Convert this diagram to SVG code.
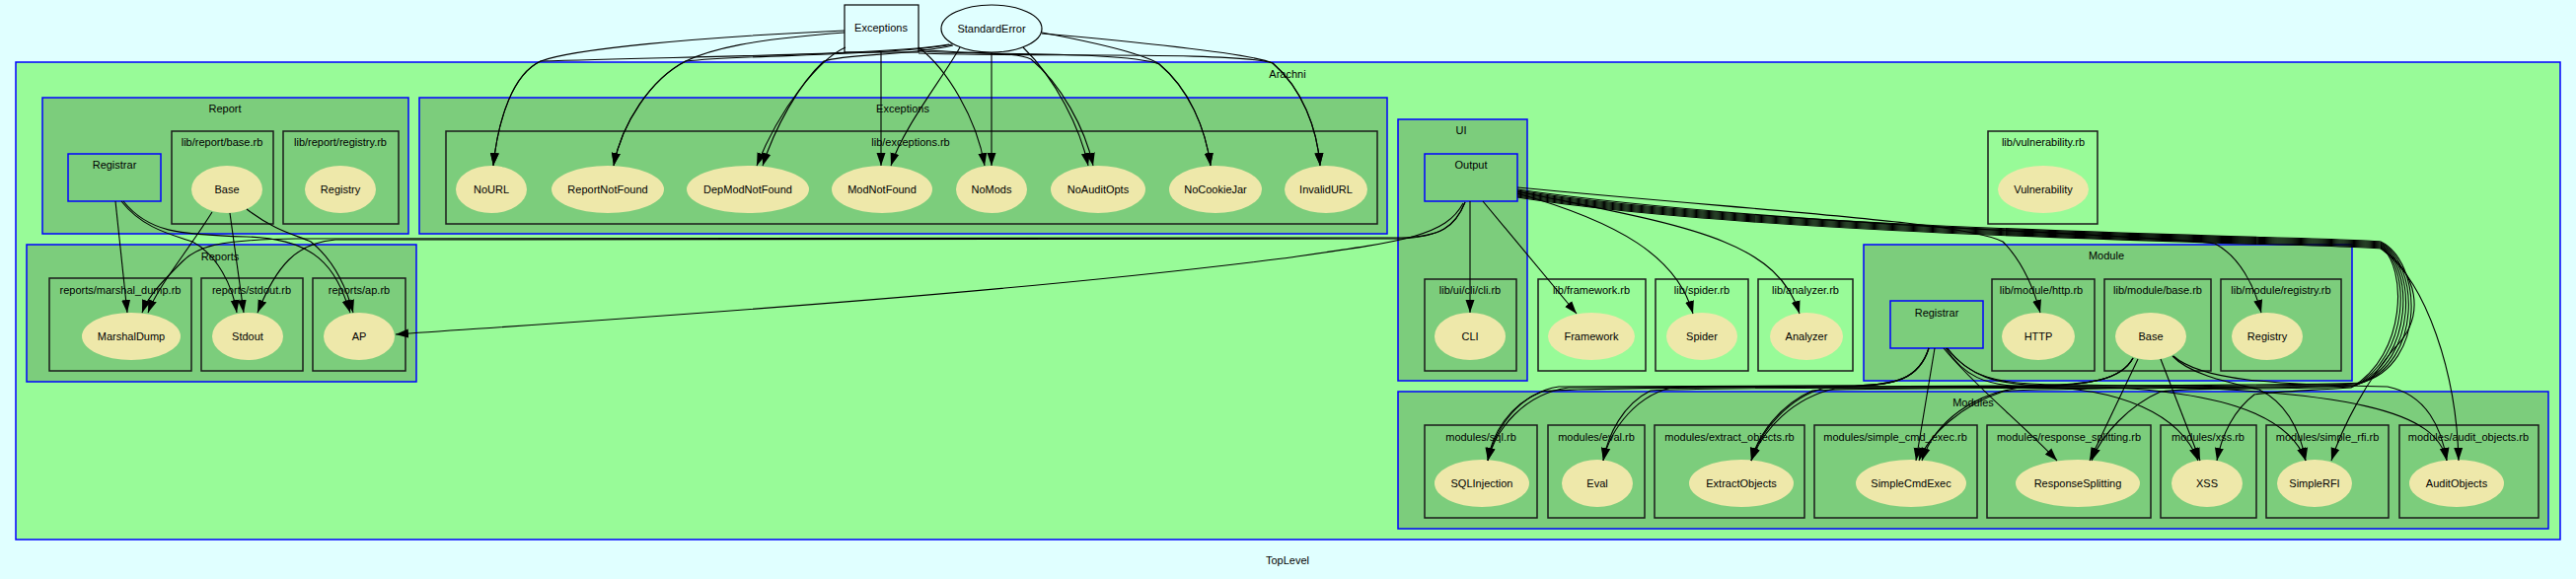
<svg xmlns="http://www.w3.org/2000/svg" width="2611" height="587" viewBox="0 0 2611 587">
<defs>
<style>
text{font-family:"Liberation Sans",Arial,sans-serif;font-size:11px;text-anchor:middle;fill:#000}
.c1{fill:#98FB98;stroke:#0000FF;stroke-width:1.5}
.c2{fill:#7CCD7C;stroke:#0000FF;stroke-width:1.5}
.f{fill:none;stroke:#1a1a1a;stroke-width:1.5}
.n{fill:#EEE8AA;stroke:none}
.m{fill:none;stroke:#0000FF;stroke-width:1.5}
.t{fill:#E0FFFF;stroke:#000;stroke-width:1.2}
.e path{fill:none;stroke:#000;stroke-width:1.1;marker-end:url(#arr)}
</style>
<marker id="arr" markerUnits="userSpaceOnUse" markerWidth="13" markerHeight="10" refX="13" refY="5" orient="auto">
<path d="M0,0.5 L13,5 L0,9.5 z" fill="#000"/>
</marker>
</defs>
<rect x="0" y="0" width="2611" height="587" fill="#E0FFFF"/>
<text x="1305" y="572">TopLevel</text>

<!-- clusters -->
<g id="cluster_Arachni">
<rect class="c1" x="16" y="63" width="2579" height="484"/>
<text x="1305" y="79">Arachni</text>
</g>
<g id="cluster_Report">
<rect class="c2" x="43" y="99" width="371" height="138"/>
<text x="228" y="114">Report</text>
<rect class="f" x="174" y="133" width="103" height="94"/>
<text x="225" y="148">lib/report/base.rb</text>
<rect class="f" x="287" y="133" width="117" height="94"/>
<text x="345" y="148">lib/report/registry.rb</text>
</g>
<g id="cluster_Exceptions">
<rect class="c2" x="425" y="99" width="981" height="138"/>
<text x="915" y="114">Exceptions</text>
<rect class="f" x="452" y="133" width="944" height="94"/>
<text x="923" y="148">lib/exceptions.rb</text>
</g>
<g id="cluster_Reports">
<rect class="c2" x="27" y="248" width="395" height="139"/>
<text x="223" y="264">Reports</text>
<rect class="f" x="50" y="282" width="144" height="94"/>
<text x="122" y="298">reports/marshal_dump.rb</text>
<rect class="f" x="204" y="282" width="103" height="94"/>
<text x="255" y="298">reports/stdout.rb</text>
<rect class="f" x="317" y="282" width="94" height="94"/>
<text x="364" y="298">reports/ap.rb</text>
</g>
<g id="cluster_UI">
<rect class="c2" x="1417" y="121" width="131" height="265"/>
<text x="1481" y="136">UI</text>
<rect class="f" x="1444" y="283" width="93" height="93"/>
<text x="1490" y="298">lib/ui/cli/cli.rb</text>
</g>
<g id="cluster_files">
<rect class="f" x="1559" y="283" width="109" height="93"/>
<text x="1613" y="298">lib/framework.rb</text>
<rect class="f" x="1678" y="283" width="94" height="93"/>
<text x="1725" y="298">lib/spider.rb</text>
<rect class="f" x="1782" y="283" width="96" height="93"/>
<text x="1830" y="298">lib/analyzer.rb</text>
<rect class="f" x="2015" y="133" width="111" height="94"/>
<text x="2071" y="148">lib/vulnerability.rb</text>
</g>
<g id="cluster_Module">
<rect class="c2" x="1889" y="248" width="495" height="138"/>
<text x="2135" y="263">Module</text>
<rect class="f" x="2019" y="283" width="104" height="93"/>
<text x="2069" y="298">lib/module/http.rb</text>
<rect class="f" x="2133" y="283" width="108" height="93"/>
<text x="2187" y="298">lib/module/base.rb</text>
<rect class="f" x="2251" y="283" width="122" height="93"/>
<text x="2312" y="298">lib/module/registry.rb</text>
</g>
<g id="cluster_Modules">
<rect class="c2" x="1417" y="397" width="1166" height="139"/>
<text x="2000" y="412">Modules</text>
<rect class="f" x="1444" y="431" width="114" height="94"/>
<text x="1501" y="447">modules/sql.rb</text>
<rect class="f" x="1569" y="431" width="98" height="94"/>
<text x="1618" y="447">modules/eval.rb</text>
<rect class="f" x="1677" y="431" width="152" height="94"/>
<text x="1753" y="447">modules/extract_objects.rb</text>
<rect class="f" x="1839" y="431" width="165" height="94"/>
<text x="1921" y="447">modules/simple_cmd_exec.rb</text>
<rect class="f" x="2014" y="431" width="166" height="94"/>
<text x="2097" y="447">modules/response_splitting.rb</text>
<rect class="f" x="2190" y="431" width="97" height="94"/>
<text x="2238" y="447">modules/xss.rb</text>
<rect class="f" x="2297" y="431" width="124" height="94"/>
<text x="2359" y="447">modules/simple_rfi.rb</text>
<rect class="f" x="2432" y="431" width="141" height="94"/>
<text x="2502" y="447">modules/audit_objects.rb</text>
</g>

<!-- nodes -->
<g id="Exceptions"><rect class="t" x="856" y="5" width="75" height="48"/><text x="893" y="32">Exceptions</text></g>
<g id="StandardError"><ellipse class="t" cx="1005" cy="29" rx="51" ry="24"/><text x="1005" y="33">StandardError</text></g>
<g id="Report_Registrar"><rect class="m" x="69" y="156" width="94" height="48"/><text x="116" y="171">Registrar</text></g>
<g id="Report_Base"><ellipse class="n" cx="230" cy="192" rx="36" ry="24"/><text x="230" y="196">Base</text></g>
<g id="Report_Registry"><ellipse class="n" cx="345" cy="192" rx="36" ry="24"/><text x="345" y="196">Registry</text></g>
<g id="NoURL"><ellipse class="n" cx="498" cy="192" rx="36" ry="24"/><text x="498" y="196">NoURL</text></g>
<g id="ReportNotFound"><ellipse class="n" cx="616" cy="192" rx="57" ry="24"/><text x="616" y="196">ReportNotFound</text></g>
<g id="DepModNotFound"><ellipse class="n" cx="758" cy="192" rx="62" ry="24"/><text x="758" y="196">DepModNotFound</text></g>
<g id="ModNotFound"><ellipse class="n" cx="894" cy="192" rx="51" ry="24"/><text x="894" y="196">ModNotFound</text></g>
<g id="NoMods"><ellipse class="n" cx="1005" cy="192" rx="36" ry="24"/><text x="1005" y="196">NoMods</text></g>
<g id="NoAuditOpts"><ellipse class="n" cx="1113" cy="192" rx="48" ry="24"/><text x="1113" y="196">NoAuditOpts</text></g>
<g id="NoCookieJar"><ellipse class="n" cx="1232" cy="192" rx="47" ry="24"/><text x="1232" y="196">NoCookieJar</text></g>
<g id="InvalidURL"><ellipse class="n" cx="1344" cy="192" rx="42" ry="24"/><text x="1344" y="196">InvalidURL</text></g>
<g id="MarshalDump"><ellipse class="n" cx="133" cy="341" rx="50" ry="24"/><text x="133" y="345">MarshalDump</text></g>
<g id="Stdout"><ellipse class="n" cx="251" cy="341" rx="36" ry="24"/><text x="251" y="345">Stdout</text></g>
<g id="AP"><ellipse class="n" cx="364" cy="341" rx="36" ry="24"/><text x="364" y="345">AP</text></g>
<g id="Output"><rect class="m" x="1444" y="156" width="94" height="48"/><text x="1491" y="171">Output</text></g>
<g id="CLI"><ellipse class="n" cx="1490" cy="341" rx="36" ry="24"/><text x="1490" y="345">CLI</text></g>
<g id="Framework"><ellipse class="n" cx="1613" cy="341" rx="44" ry="24"/><text x="1613" y="345">Framework</text></g>
<g id="Spider"><ellipse class="n" cx="1725" cy="341" rx="36" ry="24"/><text x="1725" y="345">Spider</text></g>
<g id="Analyzer"><ellipse class="n" cx="1831" cy="341" rx="37" ry="24"/><text x="1831" y="345">Analyzer</text></g>
<g id="Vulnerability"><ellipse class="n" cx="2071" cy="192" rx="46" ry="24"/><text x="2071" y="196">Vulnerability</text></g>
<g id="Module_Registrar"><rect class="m" x="1916" y="305" width="94" height="48"/><text x="1963" y="321">Registrar</text></g>
<g id="HTTP"><ellipse class="n" cx="2066" cy="341" rx="37" ry="24"/><text x="2066" y="345">HTTP</text></g>
<g id="Module_Base"><ellipse class="n" cx="2180" cy="341" rx="36" ry="24"/><text x="2180" y="345">Base</text></g>
<g id="Module_Registry"><ellipse class="n" cx="2298" cy="341" rx="36" ry="24"/><text x="2298" y="345">Registry</text></g>
<g id="SQLInjection"><ellipse class="n" cx="1502" cy="490" rx="48" ry="24"/><text x="1502" y="494">SQLInjection</text></g>
<g id="Eval"><ellipse class="n" cx="1619" cy="490" rx="36" ry="24"/><text x="1619" y="494">Eval</text></g>
<g id="ExtractObjects"><ellipse class="n" cx="1765" cy="490" rx="53" ry="24"/><text x="1765" y="494">ExtractObjects</text></g>
<g id="SimpleCmdExec"><ellipse class="n" cx="1937" cy="490" rx="56" ry="24"/><text x="1937" y="494">SimpleCmdExec</text></g>
<g id="ResponseSplitting"><ellipse class="n" cx="2106" cy="490" rx="63" ry="24"/><text x="2106" y="494">ResponseSplitting</text></g>
<g id="XSS"><ellipse class="n" cx="2237" cy="490" rx="36" ry="24"/><text x="2237" y="494">XSS</text></g>
<g id="SimpleRFI"><ellipse class="n" cx="2346" cy="490" rx="38" ry="24"/><text x="2346" y="494">SimpleRFI</text></g>
<g id="AuditObjects"><ellipse class="n" cx="2490" cy="490" rx="48" ry="24"/><text x="2490" y="494">AuditObjects</text></g>

<!-- connectors -->
<g id="connectors" class="e">
<path d="M856,31 C700,38 580,50 548,62 C520,75 505,120 500,168"/>
<path d="M962,45 C900,56 700,57 548,62 C520,75 505,120 500,168"/>
<path d="M856,33 C760,40 720,50 695,62 C660,80 630,125 622,168"/>
<path d="M965,45 C900,57 760,55 695,62 C660,80 630,125 622,168"/>
<path d="M857,48 C830,60 790,110 767,168"/>
<path d="M966,46 C920,57 860,54 835,62 C810,85 785,130 773,168"/>
<path d="M893,53 L893,168"/>
<path d="M973,48 C955,80 915,130 903,168"/>
<path d="M1005,53 L1005,168"/>
<path d="M931,48 C960,70 990,120 998,168"/>
<path d="M1037,48 C1070,80 1095,130 1103,168"/>
<path d="M931,50 C980,55 1030,52 1045,60 C1075,85 1100,130 1108,168"/>
<path d="M1056,33 C1120,45 1160,55 1175,65 C1205,90 1222,130 1227,168"/>
<path d="M931,52 C1000,56 1140,52 1175,65 C1205,90 1222,130 1227,168"/>
<path d="M1056,34 C1180,45 1270,55 1290,64 C1320,90 1335,130 1338,168"/>
<path d="M931,54 C1050,58 1250,52 1290,64 C1320,90 1335,130 1338,168"/>

<path d="M117,204 L129,317"/>
<path d="M123,204 C145,232 175,238 195,245 C220,258 236,290 240,317"/>
<path d="M125,204 C150,235 180,238 250,240 C320,242 340,270 355,317"/>
<path d="M215,215 C190,255 160,290 150,317"/>
<path d="M233,216 L247,317"/>
<path d="M250,212 C280,235 300,238 315,245 C340,265 352,295 358,317"/>
<path d="M1485,205 C1475,230 1460,240 1420,241 L300,242 C220,243 200,250 185,265 C165,285 150,300 144,317"/>
<path d="M1485,205 C1475,230 1460,240 1420,242 L340,243 C300,246 280,270 261,317"/>
<path d="M1483,206 C1465,240 1420,245 1300,262 C1000,300 600,325 401,339"/>

<path d="M1490,204 L1490,317"/>
<path d="M1503,204 L1598,318"/>
<path d="M1538,196 C1640,225 1700,260 1716,318"/>
<path d="M1538,194 C1700,228 1800,240 1824,318"/>
<path d="M1538,190 C1800,215 1990,225 2030,245 C2050,265 2062,295 2068,317"/>
<path d="M1538,192 C1800,230 2200,238 2245,247 C2270,260 2285,290 2292,317"/>

<path d="M1538,193 C1800,235 2380,240 2413,245 C2455,265 2460,370 2393,388 C2300,393 1600,390 1563,397 C1530,410 1512,440 1508,467"/>
<path d="M1538,194 C1800,236 2380,241 2413,246 C2452,266 2456,368 2391,389 C2300,394 1710,391 1673,396 C1645,410 1630,440 1625,467"/>
<path d="M1538,195 C1800,237 2380,242 2413,247 C2449,267 2452,366 2389,390 C2300,395 1870,392 1837,396 C1805,410 1782,440 1775,467"/>
<path d="M1538,196 C1800,238 2380,243 2413,248 C2446,268 2448,364 2387,391 C2300,395 2060,392 2030,397 C1990,410 1955,440 1945,467"/>
<path d="M1538,197 C1800,239 2380,244 2413,249 C2443,269 2444,362 2385,392 C2300,396 2220,392 2190,397 C2160,410 2130,440 2120,467"/>
<path d="M1538,198 C1800,240 2380,245 2413,250 C2440,270 2440,360 2383,393 C2340,396 2300,397 2285,400 C2265,415 2252,440 2247,467"/>
<path d="M1538,199 C1800,241 2380,246 2413,251 C2450,275 2460,320 2427,353 C2400,385 2375,430 2363,467"/>
<path d="M1538,200 C1800,242 2380,247 2413,252 C2460,285 2490,380 2492,467"/>

<path d="M1955,353 C1945,385 1920,390 1880,391 L1580,392 C1540,398 1515,435 1508,467"/>
<path d="M1955,353 C1945,385 1920,390 1880,391 L1700,392 C1660,398 1632,435 1625,467"/>
<path d="M1955,353 C1945,385 1920,390 1880,392 L1850,393 C1815,402 1785,435 1775,467"/>
<path d="M1961,353 L1942,467"/>
<path d="M1970,353 C2000,390 2050,430 2085,467"/>
<path d="M1972,353 C1990,380 2010,392 2060,392 C2150,393 2210,420 2228,467"/>
<path d="M1973,353 C1995,380 2020,391 2080,391 C2250,392 2320,420 2337,467"/>
<path d="M1974,353 C1995,381 2020,390 2090,390 C2400,392 2470,420 2480,467"/>

<path d="M2162,363 C2150,385 2120,390 2060,391 L1590,393 C1545,399 1516,435 1508,467"/>
<path d="M2162,363 C2150,385 2120,390 2060,392 L1860,394 C1818,403 1787,435 1775,467"/>
<path d="M2162,363 C2150,385 2120,390 2060,392 C2000,395 1960,430 1948,467"/>
<path d="M2167,364 L2118,467"/>
<path d="M2190,364 L2230,467"/>
<path d="M2202,361 C2220,380 2260,388 2290,395 C2320,410 2332,440 2337,467"/>
<path d="M2203,361 C2230,385 2300,390 2420,392 C2460,400 2475,435 2480,467"/>
</g>
</svg>
